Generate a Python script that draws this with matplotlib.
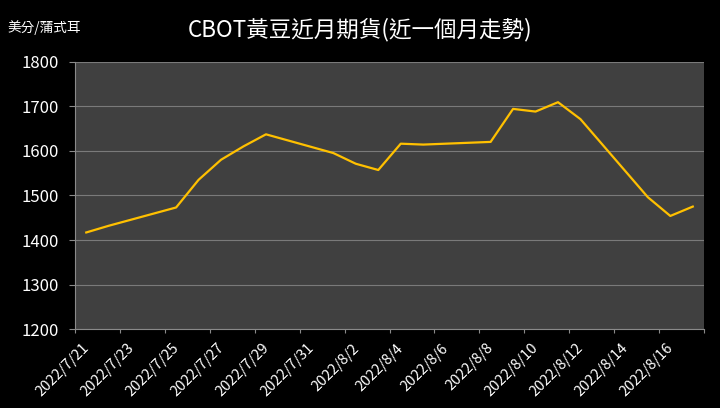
import pandas as pd
import matplotlib.pyplot as plt
import matplotlib.transforms as mtransforms

plt.rcParams['font.family'] = ['Noto Sans CJK TC', 'DejaVu Sans']

# CBOT soybean front-month futures, cents per bushel
dates = ['2022-07-21', '2022-07-22', '2022-07-25', '2022-07-26', '2022-07-27',
         '2022-07-28', '2022-07-29', '2022-08-01', '2022-08-02', '2022-08-03',
         '2022-08-04', '2022-08-05', '2022-08-08', '2022-08-09', '2022-08-10',
         '2022-08-11', '2022-08-12', '2022-08-15', '2022-08-16', '2022-08-17']
prices = [1417, 1432, 1473, 1535, 1580, 1610, 1637, 1595, 1571, 1557,
          1616, 1614, 1620, 1694, 1688, 1709, 1671, 1496, 1454, 1475]
tick_dates = pd.date_range('2022-07-21', '2022-08-18', freq='2D')
y_ticks = [1200, 1300, 1400, 1500, 1600, 1700, 1800]

title = 'CBOT黃豆近月期貨(近一個月走勢)'
unit = '美分/蒲式耳'

x = pd.to_datetime(dates)
half = pd.Timedelta(hours=12)

fig = plt.figure(figsize=(7.2, 4.08), dpi=100, facecolor='black')
ax = fig.add_axes([0.1042, 0.193, 0.8736, 0.656], facecolor='#404040')

ax.plot(x, prices, color='#FFC000', linewidth=1.6, zorder=3)

ax.set_xlim(x[0] - half, pd.Timestamp('2022-08-17') + half)
ax.set_ylim(1200, 1800)
ax.set_yticks(y_ticks)
ax.grid(axis='y', color='#7a7a7a', linewidth=0.8)
ax.set_axisbelow(True)

ticks = [d - half for d in tick_dates]
ax.set_xticks(ticks)
labels = [f'{d.year}/{d.month}/{d.day}' for d in tick_dates]
labels[-1] = ''
ax.set_xticklabels(labels)

ax.tick_params(axis='x', colors='#8a8a8a', labelcolor='white', labelsize=10.5,
               length=3, width=0.8, pad=4)
ax.tick_params(axis='y', colors='#8a8a8a', labelcolor='white', labelsize=12,
               length=4.5, width=0.8, pad=7)

# shift rotated date labels to sit like the original
shift = mtransforms.ScaledTranslation(0.12, -0.07, fig.dpi_scale_trans)
for lab in ax.get_xticklabels():
    lab.set_rotation(45)
    lab.set_ha('right')
    lab.set_va('center')
    lab.set_rotation_mode('anchor')
    lab.set_transform(lab.get_transform() + shift)

for side in ['top', 'right']:
    ax.spines[side].set_visible(False)
for side in ['left', 'bottom']:
    ax.spines[side].set_color('#8a8a8a')
    ax.spines[side].set_linewidth(0.8)

fig.text(0.5, 0.928, title, color='white', fontsize=16.2, ha='center', va='center')
fig.text(0.011, 0.933, unit, color='white', fontsize=9.8, ha='left', va='center')

plt.savefig('out.png', dpi=100, facecolor='black')
